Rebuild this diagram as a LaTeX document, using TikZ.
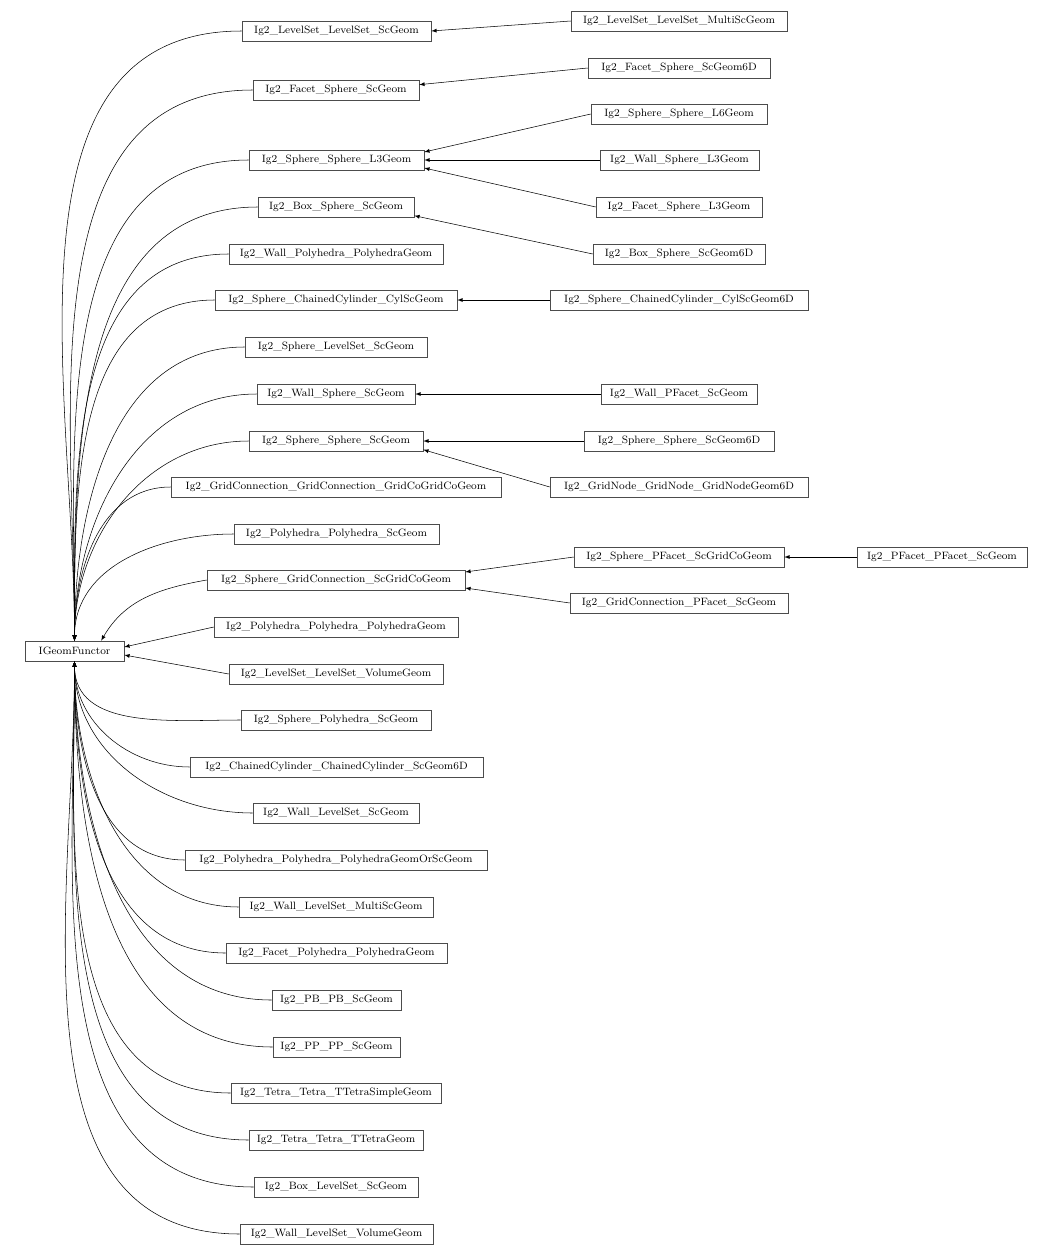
\documentclass[tikz,border=0pt]{standalone}
\usetikzlibrary{arrows}
\tikzset{
  cls/.style={draw=black!70, rectangle, minimum height=15pt, inner sep=1pt,
    font=\fontsize{8}{9}\selectfont, minimum width=#1*0.75pt},
  inh/.style={latex-, black, thin}
}
\begin{document}
\begin{tikzpicture}[x=0.75pt, y=-0.75pt]
  \useasboundingbox (0,0) rectangle (1052,1256);

  % base class
  \node[cls=99] (base) at (74.5,651) {IGeomFunctor};

  % direct children
  \node[cls=189] (lslsSc) at (336.5,31) {Ig2\_LevelSet\_LevelSet\_ScGeom};
  \node[cls=166] (fsSc) at (336,90) {Ig2\_Facet\_Sphere\_ScGeom};
  \node[cls=175] (ssL3) at (336.5,160) {Ig2\_Sphere\_Sphere\_L3Geom};
  \node[cls=156] (bsSc) at (336,207) {Ig2\_Box\_Sphere\_ScGeom};
  \node[cls=214] (wpPoly) at (336,254) {Ig2\_Wall\_Polyhedra\_PolyhedraGeom};
  \node[cls=242] (scCyl) at (336,300) {Ig2\_Sphere\_ChainedCylinder\_CylScGeom};
  \node[cls=182] (slsSc) at (336,347) {Ig2\_Sphere\_LevelSet\_ScGeom};
  \node[cls=158] (wsSc) at (336,394) {Ig2\_Wall\_Sphere\_ScGeom};
  \node[cls=174] (ssSc) at (336,441) {Ig2\_Sphere\_Sphere\_ScGeom};
  \node[cls=330] (gcgc) at (336,487) {Ig2\_GridConnection\_GridConnection\_GridCoGridCoGeom};
  \node[cls=205] (ppSc) at (336.5,534) {Ig2\_Polyhedra\_Polyhedra\_ScGeom};
  \node[cls=258] (sgcSc) at (336,580) {Ig2\_Sphere\_GridConnection\_ScGridCoGeom};
  \node[cls=244] (ppPoly) at (336,627) {Ig2\_Polyhedra\_Polyhedra\_PolyhedraGeom};
  \node[cls=214] (lslsVol) at (336,674) {Ig2\_LevelSet\_LevelSet\_VolumeGeom};
  \node[cls=190] (spSc) at (336,720) {Ig2\_Sphere\_Polyhedra\_ScGeom};
  \node[cls=293] (cccc) at (336.5,767) {Ig2\_ChainedCylinder\_ChainedCylinder\_ScGeom6D};
  \node[cls=166] (wlsSc) at (336,813) {Ig2\_Wall\_LevelSet\_ScGeom};
  \node[cls=302] (ppPolySc) at (336,860) {Ig2\_Polyhedra\_Polyhedra\_PolyhedraGeomOrScGeom};
  \node[cls=194] (wlsMulti) at (336,907) {Ig2\_Wall\_LevelSet\_MultiScGeom};
  \node[cls=221] (fpPoly) at (336.5,953) {Ig2\_Facet\_Polyhedra\_PolyhedraGeom};
  \node[cls=129] (pbSc) at (336.5,1000) {Ig2\_PB\_PB\_ScGeom};
  \node[cls=127] (ppppSc) at (336.5,1047) {Ig2\_PP\_PP\_ScGeom};
  \node[cls=210] (ttSimple) at (336,1093) {Ig2\_Tetra\_Tetra\_TTetraSimpleGeom};
  \node[cls=174] (ttGeom) at (336,1140) {Ig2\_Tetra\_Tetra\_TTetraGeom};
  \node[cls=164] (blsSc) at (336,1187) {Ig2\_Box\_LevelSet\_ScGeom};
  \node[cls=193] (wlsVol) at (336.5,1234) {Ig2\_Wall\_LevelSet\_VolumeGeom};

  % grandchildren
  \node[cls=216] (lslsMulti) at (679,21) {Ig2\_LevelSet\_LevelSet\_MultiScGeom};
  \node[cls=182] (fsSc6) at (679,68) {Ig2\_Facet\_Sphere\_ScGeom6D};
  \node[cls=176] (ssL6) at (679,114) {Ig2\_Sphere\_Sphere\_L6Geom};
  \node[cls=159] (wsL3) at (679.5,160) {Ig2\_Wall\_Sphere\_L3Geom};
  \node[cls=166] (fsL3) at (679,207) {Ig2\_Facet\_Sphere\_L3Geom};
  \node[cls=172] (bsSc6) at (679,254) {Ig2\_Box\_Sphere\_ScGeom6D};
  \node[cls=258] (scCyl6) at (679,300) {Ig2\_Sphere\_ChainedCylinder\_CylScGeom6D};
  \node[cls=156] (wpfSc) at (679,394) {Ig2\_Wall\_PFacet\_ScGeom};
  \node[cls=190] (ssSc6) at (679,441) {Ig2\_Sphere\_Sphere\_ScGeom6D};
  \node[cls=258] (gngn) at (679,487) {Ig2\_GridNode\_GridNode\_GridNodeGeom6D};
  \node[cls=210] (spfGc) at (679,557) {Ig2\_Sphere\_PFacet\_ScGridCoGeom};
  \node[cls=218] (gcpfSc) at (679,603) {Ig2\_GridConnection\_PFacet\_ScGeom};
  \node[cls=170] (pfpfSc) at (942,557) {Ig2\_PFacet\_PFacet\_ScGeom};

  % children above the base
  \foreach \c in {lslsSc,fsSc,ssL3,bsSc,wpPoly,scCyl,slsSc,wsSc,ssSc,gcgc,ppSc}
    \draw[inh] (base.north) to[out=90,in=180] (\c.west);
  \draw[inh] ([xshift=20]base.north) to[out=60,in=190] (sgcSc.west);
  \draw[inh] ([yshift=3]base.east) -- (ppPoly.west);
  \draw[inh] ([yshift=-3]base.east) -- (lslsVol.west);
  % children below the base
  \foreach \c in {spSc,cccc,wlsSc,ppPolySc,wlsMulti,fpPoly,pbSc,ppppSc,ttSimple,ttGeom,blsSc,wlsVol}
    \draw[inh] (base.south) to[out=-90,in=180] (\c.west);

  % second level
  \draw[inh] (lslsSc.east) -- (lslsMulti.west);
  \draw[inh] ([yshift=4pt]fsSc.east) -- (fsSc6.west);
  \draw[inh] ([yshift=6pt]ssL3.east) -- (ssL6.west);
  \draw[inh] (ssL3.east) -- (wsL3.west);
  \draw[inh] ([yshift=-6pt]ssL3.east) -- (fsL3.west);
  \draw[inh] ([yshift=-6.5pt]bsSc.east) -- (bsSc6.west);
  \draw[inh] (scCyl.east) -- (scCyl6.west);
  \draw[inh] (wsSc.east) -- (wpfSc.west);
  \draw[inh] (ssSc.east) -- (ssSc6.west);
  \draw[inh] ([yshift=-6.5pt]ssSc.east) -- (gngn.west);
  \draw[inh] ([yshift=6pt]sgcSc.east) -- (spfGc.west);
  \draw[inh] ([yshift=-6pt]sgcSc.east) -- (gcpfSc.west);
  \draw[inh] (spfGc.east) -- (pfpfSc.west);
\end{tikzpicture}
\end{document}
